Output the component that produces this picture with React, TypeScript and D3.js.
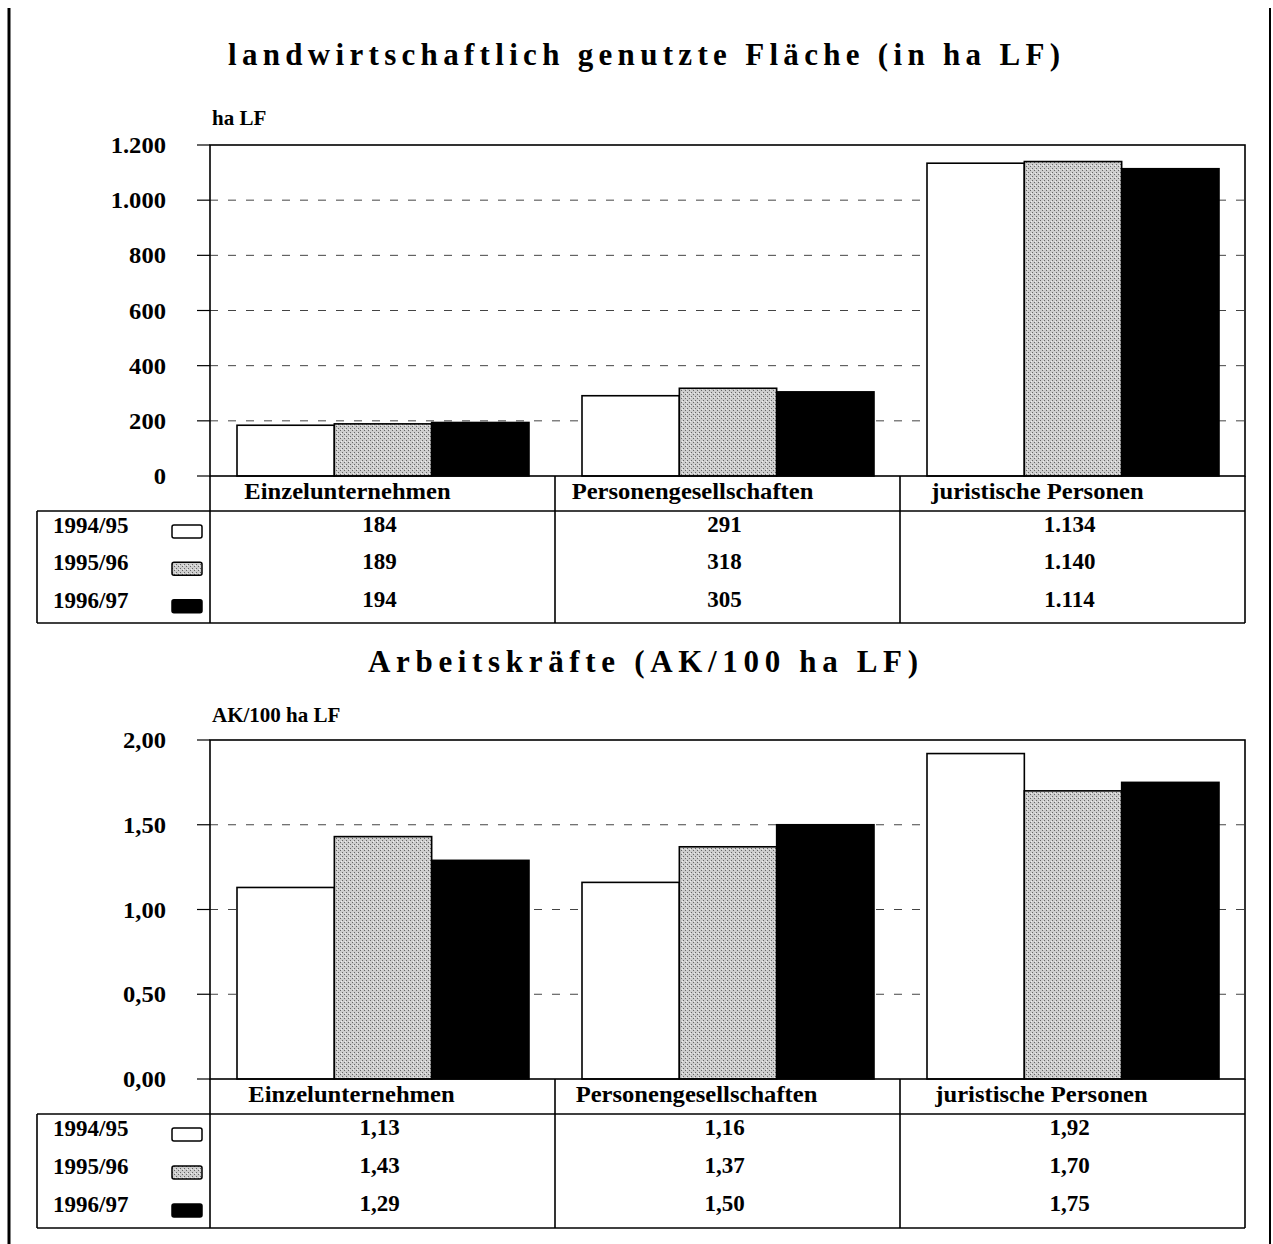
import React from "react";
import * as d3 from "d3";

const categories = ["Einzelunternehmen", "Personengesellschaften", "juristische Personen"];
const seriesNames = ["1994/95", "1995/96", "1996/97"];

const flaecheTitle = "landwirtschaftlich genutzte Fläche (in ha LF)";
const flaecheUnit = "ha LF";
const flaeche94 = [184, 291, 1134];
const flaeche95 = [189, 318, 1140];
const flaeche96 = [194, 305, 1114];
const flaecheTicks = [0, 200, 400, 600, 800, 1000, 1200];

const akTitle = "Arbeitskräfte (AK/100 ha LF)";
const akUnit = "AK/100 ha LF";
const ak94 = [1.13, 1.16, 1.92];
const ak95 = [1.43, 1.37, 1.70];
const ak96 = [1.29, 1.50, 1.75];
const akTicks = [0, 0.5, 1.0, 1.5, 2.0];

const de = d3.formatLocale({ decimal: ",", thousands: ".", grouping: [3], currency: ["", " €"] });
const fmtInt = de.format(",.0f");
const fmt2 = de.format(".2f");

const FONT = "'Liberation Serif', 'Times New Roman', serif";
const fills = ["#ffffff", "url(#stipple)", "#000000"];

type PanelProps = {
  title: string;
  titleBaseline: number;
  titleX0: number;
  titleX1: number;
  unit: string;
  unitBaseline: number;
  series: number[][];
  ticks: number[];
  fmt: (n: number) => string;
  plotTop: number;
  plotBottom: number;
  catBottom: number;
  tableBottom: number;
  catShift: number;
};

const L = 210;
const R = 1245;
const LEG_L = 37;
const SX = 1.07;

function Panel(p: PanelProps) {
  const y = d3.scaleLinear().domain([0, d3.max(p.ticks) as number]).range([p.plotBottom, p.plotTop]);
  const x = d3.scaleBand<string>().domain(categories).range([L, R]).padding(0);
  const bw = x.bandwidth();
  const inner = d3.scaleBand<string>().domain(seriesNames).range([27, bw - 26]).padding(0);
  const rowH = (p.tableBottom - p.catBottom) / seriesNames.length;
  return (
    <g>
      <text
        x={p.titleX0}
        y={p.titleBaseline}
        textLength={p.titleX1 - p.titleX0}
        lengthAdjust="spacing"
        fontFamily={FONT}
        fontWeight="bold"
        fontSize={31}
      >
        {p.title}
      </text>
      <text x={212} y={p.unitBaseline} fontFamily={FONT} fontWeight="bold" fontSize={21}>
        {p.unit}
      </text>
      {p.ticks.slice(1, -1).map((t) => (
        <line key={"g" + t} x1={L} x2={R} y1={y(t)} y2={y(t)} stroke="#444" strokeWidth={1} strokeDasharray="8,10" />
      ))}
      {p.ticks.map((t) => (
        <g key={"t" + t}>
          <line x1={197} x2={L} y1={y(t)} y2={y(t)} stroke="#000" strokeWidth={1.2} />
          <g transform={`translate(166,${y(t)}) scale(${SX},1)`}>
            <text x={0} y={0} dy="0.35em" textAnchor="end" fontFamily={FONT} fontWeight="bold" fontSize={23}>
              {p.fmt(t)}
            </text>
          </g>
        </g>
      ))}
      {categories.map((c, ci) => (
        <g key={c} transform={`translate(${x(c)},0)`}>
          {seriesNames.map((s, si) => {
            const v = p.series[si][ci];
            return (
              <rect
                key={s}
                x={inner(s)}
                y={y(v)}
                width={inner.bandwidth()}
                height={p.plotBottom - y(v)}
                fill={fills[si]}
                stroke="#000"
                strokeWidth={1.6}
              />
            );
          })}
        </g>
      ))}
      <rect x={L} y={p.plotTop} width={R - L} height={p.plotBottom - p.plotTop} fill="none" stroke="#000" strokeWidth={1.6} />
      <line x1={L} x2={L} y1={p.plotBottom} y2={p.tableBottom} stroke="#000" strokeWidth={1.6} />
      <line x1={R} x2={R} y1={p.plotBottom} y2={p.tableBottom} stroke="#000" strokeWidth={1.6} />
      {categories.slice(1).map((c) => (
        <line key={"d" + c} x1={x(c)} x2={x(c)} y1={p.plotBottom} y2={p.tableBottom} stroke="#000" strokeWidth={1.6} />
      ))}
      <line x1={LEG_L} x2={R} y1={p.catBottom} y2={p.catBottom} stroke="#000" strokeWidth={1.6} />
      <line x1={LEG_L} x2={R} y1={p.tableBottom} y2={p.tableBottom} stroke="#000" strokeWidth={1.6} />
      <line x1={LEG_L} x2={LEG_L} y1={p.catBottom} y2={p.tableBottom} stroke="#000" strokeWidth={1.6} />
      {categories.map((c) => (
        <g key={"c" + c} transform={`translate(${(x(c) as number) + bw / 2 - p.catShift},${p.plotBottom + 23}) scale(${SX},1)`}>
          <text x={0} y={0} textAnchor="middle" fontFamily={FONT} fontWeight="bold" fontSize={23}>
            {c}
          </text>
        </g>
      ))}
      {seriesNames.map((s, si) => {
        const top = p.catBottom + si * rowH;
        return (
          <g key={"r" + s}>
            <text x={53} y={top + 22} fontFamily={FONT} fontWeight="bold" fontSize={23}>
              {s}
            </text>
            <rect x={172} y={top + 14} width={30} height={13} rx={2} fill={fills[si]} stroke="#000" strokeWidth={1.5} />
            {categories.map((c, ci) => (
              <text
                key={c}
                x={(x(c) as number) + bw / 2 - 3}
                y={top + 21}
                textAnchor="middle"
                fontFamily={FONT}
                fontWeight="bold"
                fontSize={23}
              >
                {p.fmt(p.series[si][ci])}
              </text>
            ))}
          </g>
        );
      })}
    </g>
  );
}

export default function App() {
  return (
    <svg width={1273} height={1244} style={{ position: "absolute", left: 0, top: 0, background: "#fff" }}>
      <defs>
        <pattern id="stipple" width={4} height={4} patternUnits="userSpaceOnUse">
          <rect width={4} height={4} fill="#cdcdcd" />
          <rect x={0} y={0} width={1} height={1} fill="#666" />
          <rect x={2} y={2} width={1} height={1} fill="#666" />
          <rect x={3} y={1} width={1} height={1} fill="#eee" />
        </pattern>
      </defs>
      <rect width={1273} height={1244} fill="#fff" />
      <line x1={9} x2={9} y1={8} y2={1244} stroke="#000" strokeWidth={3} />
      <line x1={1270} x2={1270} y1={8} y2={1244} stroke="#000" strokeWidth={2} />
      <Panel
        title={flaecheTitle}
        titleBaseline={65}
        titleX0={228}
        titleX1={1060}
        unit={flaecheUnit}
        unitBaseline={125}
        series={[flaeche94, flaeche95, flaeche96]}
        ticks={flaecheTicks}
        fmt={fmtInt}
        plotTop={145}
        plotBottom={476}
        catBottom={511}
        tableBottom={623}
        catShift={35}
      />
      <Panel
        title={akTitle}
        titleBaseline={672}
        titleX0={368}
        titleX1={918}
        unit={akUnit}
        unitBaseline={722}
        series={[ak94, ak95, ak96]}
        ticks={akTicks}
        fmt={fmt2}
        plotTop={740}
        plotBottom={1079}
        catBottom={1114}
        tableBottom={1228}
        catShift={31}
      />
    </svg>
  );
}
